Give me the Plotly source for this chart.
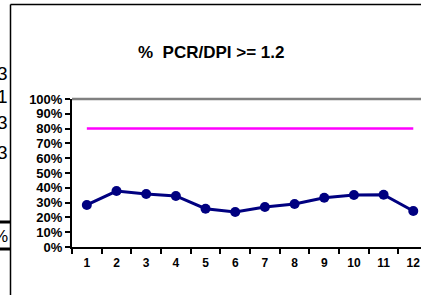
import plotly.graph_objects as go

months = ["1", "2", "3", "4", "5", "6", "7", "8", "9", "10", "11", "12"]
pct_values = [0.284, 0.378, 0.358, 0.345, 0.259, 0.236, 0.27, 0.29, 0.333, 0.351, 0.353, 0.243]
target_values = [0.80] * 12
y_ticks = [0.0, 0.1, 0.2, 0.3, 0.4, 0.5, 0.6, 0.7, 0.8, 0.9, 1.0]
side_fragments = ["3", "1", "3", "3"]

W, H = 421, 295
ML, MR, MT, MB = 72, 0, 99, 48
PW, PH = W - ML - MR, H - MT - MB

def px(x):
    return (x - ML) / PW

def py(y):
    return (H - MB - y) / PH

fig = go.Figure()
fig.add_trace(go.Scatter(x=months, y=target_values, mode="lines",
                         line=dict(color="#FF00FF", width=2.5), hoverinfo="skip",
                         cliponaxis=False))
fig.add_trace(go.Scatter(x=months, y=pct_values, mode="lines+markers",
                         line=dict(color="#000080", width=3),
                         marker=dict(color="#000080", size=10), cliponaxis=False))

font_b = "Liberation Sans, Arial, sans-serif"
shapes = [
    dict(type="line", xref="paper", yref="paper", x0=0, x1=1, y0=1, y1=1,
         line=dict(color="#808080", width=2.5)),
    dict(type="line", xref="paper", yref="paper", x0=px(10.5), x1=px(430), y0=py(4.5), y1=py(4.5),
         line=dict(color="black", width=1.5)),
    dict(type="line", xref="paper", yref="paper", x0=px(10.5), x1=px(10.5), y0=py(4.5), y1=py(300),
         line=dict(color="black", width=1.5)),
    dict(type="line", xref="paper", yref="paper", x0=px(-5), x1=px(10.5), y0=py(222), y1=py(222),
         line=dict(color="black", width=3)),
    dict(type="line", xref="paper", yref="paper", x0=px(-5), x1=px(10.5), y0=py(249), y1=py(249),
         line=dict(color="black", width=3)),
]

annotations = [
    dict(text="%\u00a0\u00a0PCR/DPI >= 1.2", xref="paper", yref="paper", x=px(211), y=py(52),
         xanchor="center", yanchor="middle", showarrow=False,
         font=dict(family=font_b, size=17, color="black", weight="bold")),
]
frag_y = [73, 97, 122, 152]
for t, yy in zip(side_fragments, frag_y):
    annotations.append(dict(text=t, xref="paper", yref="paper", x=px(9.5), y=py(yy),
                            xanchor="right", yanchor="middle", showarrow=False,
                            font=dict(family=font_b, size=19, color="black")))
annotations.append(dict(text="%", xref="paper", yref="paper", x=px(9.5), y=py(236),
                        xanchor="right", yanchor="middle", showarrow=False,
                        font=dict(family=font_b, size=17, color="black")))

fig.update_layout(
    width=W, height=H,
    margin=dict(l=ML, r=MR, t=MT, b=MB, pad=0, autoexpand=False),
    paper_bgcolor="white", plot_bgcolor="white",
    showlegend=False,
    shapes=shapes,
    annotations=annotations,
    xaxis=dict(type="category", range=[-0.5, 11.26], showgrid=False, zeroline=False,
               showline=True, linecolor="black", linewidth=2, automargin=False,
               ticks="outside", tickson="boundaries", ticklen=5, tickwidth=1.5, tickcolor="black",
               ticklabelstandoff=4,
               tickfont=dict(family=font_b, size=12, color="black", weight="bold")),
    yaxis=dict(range=[0, 1], tickvals=y_ticks, tickformat=".0%", showgrid=False, zeroline=False,
               showline=True, linecolor="black", linewidth=2, automargin=False,
               ticks="outside", ticklen=5, tickwidth=1.5, tickcolor="black",
               tickfont=dict(family=font_b, size=13, color="black", weight="bold")),
)

fig.write_html("out.html", config={"displayModeBar": False},
               post_script="document.body.style.margin='0';document.body.style.overflow='hidden';")
